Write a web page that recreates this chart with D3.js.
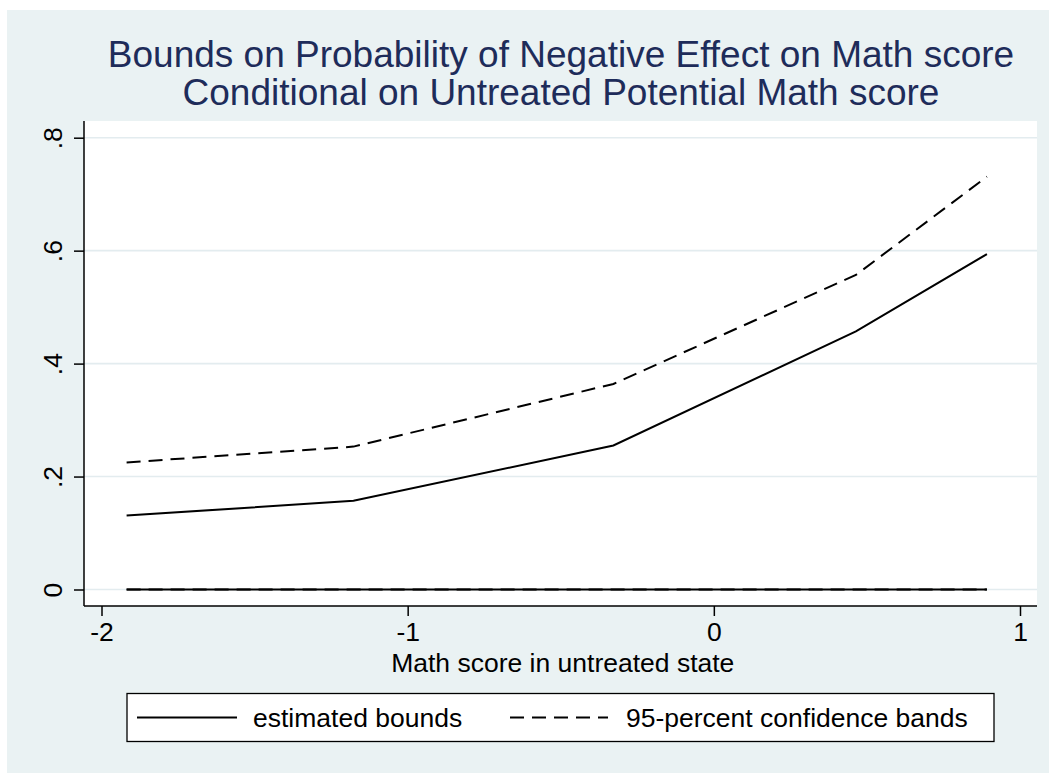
<!DOCTYPE html>
<html>
<head>
<meta charset="utf-8">
<script src="https://cdn.jsdelivr.net/npm/d3@7/dist/d3.min.js"></script>
<style>
html,body{margin:0;padding:0;background:#ffffff;}
svg{display:block;}
text{font-family:"Liberation Sans",Arial,sans-serif;}
</style>
</head>
<body>
<svg id="chart" width="1049" height="773"></svg>
<script>
// ---- data ----
const titleLines = ["Bounds on Probability of Negative Effect on Math score",
                    "Conditional on Untreated Potential Math score"];
const xTitle = "Math score in untreated state";
const xValues = [-1.918, -1.177, -0.328, 0.464, 0.892];
const upperBound = [0.131, 0.157, 0.255, 0.457, 0.594];
const lowerBound = [0, 0, 0, 0, 0];
const upperBand = [0.225, 0.253, 0.364, 0.557, 0.731];
const lowerBand = [0, 0, 0, 0, 0];
const xTicks = [-2, -1, 0, 1];
const xTickLabels = ["-2", "-1", "0", "1"];
const yTicks = [0, 0.2, 0.4, 0.6, 0.8];
const yTickLabels = ["0", ".2", ".4", ".6", ".8"];
const legendLabels = ["estimated bounds", "95-percent confidence bands"];

// ---- layout ----
const svg = d3.select("#chart");
const bg = "#EAF2F3";
const navy = "#1E2C5A";
const plot = {left: 84, right: 1037, top: 121, bottom: 606};
const dashPattern = "14,8";

svg.append("rect").attr("x", 7).attr("y", 10).attr("width", 1042).attr("height", 763).attr("fill", bg);
svg.append("rect").attr("x", plot.left).attr("y", plot.top)
   .attr("width", plot.right - plot.left).attr("height", plot.bottom - plot.top).attr("fill", "#ffffff");

const x = d3.scaleLinear().domain([-2, 1]).range([101.5, 1020]);
const y = d3.scaleLinear().domain([0, 0.8]).range([589.5, 137.7]);

// grid
svg.append("g").selectAll("line").data(yTicks).join("line")
  .attr("x1", plot.left).attr("x2", plot.right)
  .attr("y1", d => y(d)).attr("y2", d => y(d))
  .attr("stroke", "#E3ECEF").attr("stroke-width", 1.6);

// title
svg.append("g").selectAll("text").data(titleLines).join("text")
  .attr("x", 561).attr("y", (d, i) => 67 + i * 38)
  .attr("text-anchor", "middle").attr("font-size", 37).attr("fill", navy)
  .text(d => d);

// lines
const line = d3.line().x(d => x(d[0])).y(d => y(d[1]));
const series = [
  {vals: lowerBound, dash: null},
  {vals: upperBound, dash: null},
  {vals: lowerBand, dash: dashPattern},
  {vals: upperBand, dash: dashPattern}
];
svg.append("g").selectAll("path").data(series).join("path")
  .attr("d", s => line(xValues.map((xv, i) => [xv, s.vals[i]])))
  .attr("fill", "none").attr("stroke", "#000")
  .attr("stroke-width", 2)
  .attr("stroke-dasharray", s => s.dash);

// y axis
const yAxis = d3.axisLeft(y).tickValues(yTicks).tickFormat((d, i) => yTickLabels[i])
  .tickSize(10).tickSizeOuter(0).tickPadding(0);
const gy = svg.append("g").attr("transform", `translate(${plot.left},0)`).call(yAxis);
gy.select(".domain").attr("d", `M0,${plot.top}V${plot.bottom}`).attr("stroke", "#000").attr("stroke-width", 1.5);
gy.selectAll(".tick line").attr("stroke", "#000").attr("stroke-width", 1.5);
gy.selectAll(".tick text")
  .attr("font-size", 26.5).attr("fill", "#000")
  .attr("font-family", "Liberation Sans, Arial, sans-serif")
  .attr("text-anchor", "middle").attr("dy", null)
  .attr("x", null).attr("y", null)
  .attr("transform", "translate(-22,0) rotate(-90)");

// x axis
const xAxis = d3.axisBottom(x).tickValues(xTicks).tickFormat((d, i) => xTickLabels[i])
  .tickSize(10).tickSizeOuter(0).tickPadding(0);
const gx = svg.append("g").attr("transform", `translate(0,${plot.bottom})`).call(xAxis);
gx.select(".domain").attr("d", `M${plot.left},0H${plot.right}`).attr("stroke", "#000").attr("stroke-width", 1.5);
gx.selectAll(".tick line").attr("stroke", "#000").attr("stroke-width", 1.5);
gx.selectAll(".tick text")
  .attr("font-size", 26.5).attr("fill", "#000")
  .attr("font-family", "Liberation Sans, Arial, sans-serif")
  .attr("dy", null).attr("y", 35);

svg.append("text").attr("x", (x(-1) + x(0)) / 2 + 2).attr("y", 672)
  .attr("text-anchor", "middle").attr("font-size", 26.5).attr("fill", "#000")
  .text(xTitle);

// legend
const lg = svg.append("g");
lg.append("rect").attr("x", 127).attr("y", 693.5).attr("width", 867).attr("height", 48)
  .attr("fill", "#fff").attr("stroke", "#000").attr("stroke-width", 1.3);
const legendItems = [
  {label: legendLabels[0], dash: null, x1: 137, x2: 237, tx: 253},
  {label: legendLabels[1], dash: dashPattern, x1: 510, x2: 608, tx: 626}
];
legendItems.forEach(it => {
  lg.append("line").attr("x1", it.x1).attr("x2", it.x2).attr("y1", 717.5).attr("y2", 717.5)
    .attr("stroke", "#000").attr("stroke-width", 2).attr("stroke-dasharray", it.dash);
  lg.append("text").attr("x", it.tx).attr("y", 726.5).attr("font-size", 26.5).attr("fill", "#000").text(it.label);
});
</script>
</body>
</html>
